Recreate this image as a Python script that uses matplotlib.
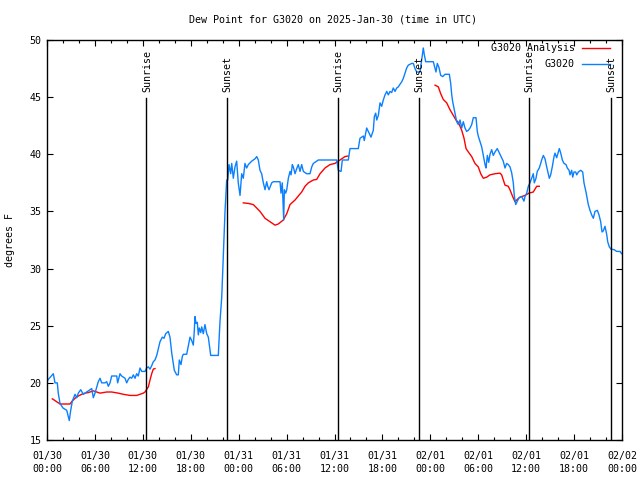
import numpy as np
import matplotlib
matplotlib.use("Agg")
import matplotlib.pyplot as plt
from matplotlib.transforms import blended_transform_factory

# ---------------- data (hours since 2025-01-30 00:00 UTC) ----------------
obs_hours = [0.0, 0.16, 0.79, 1.0, 1.29, 1.41, 1.63, 2.0, 2.47, 2.79, 2.97, 3.17, 3.51, 3.72, 3.92, 4.22,
             4.55, 4.97, 5.6, 5.8, 6.01, 6.42, 6.64, 6.85, 7.26, 7.48, 7.68, 7.89, 8.1, 8.73, 8.85, 9.14,
             9.35, 9.77, 9.98, 10.18, 10.39, 10.6, 10.81, 11.02, 11.23, 11.43, 11.65, 11.86, 12.27, 12.48,
             12.69, 12.9, 13.11, 13.31, 13.52, 13.74, 13.94, 14.15, 14.44, 14.65, 14.86, 15.19, 15.4, 15.62,
             15.82, 15.94, 16.24, 16.44, 16.57, 16.78, 16.94, 17.07, 17.49, 17.69, 17.91, 18.12, 18.32, 18.44,
             18.53, 18.66, 18.82, 18.95, 19.07, 19.25, 19.37, 19.57, 19.78, 20.0, 20.2, 20.41, 20.5, 21.45,
             21.66, 21.88, 22.08, 22.29, 22.5, 22.63, 22.79, 23.0, 23.13, 23.33, 23.54, 23.75, 23.95, 24.17,
             24.38, 24.58, 24.79, 25.0, 25.21, 25.63, 26.04, 26.26, 26.46, 26.67, 26.88, 27.09, 27.3, 27.51,
             27.64, 27.8, 28.14, 28.34, 29.18, 29.3, 29.46, 29.64, 29.72, 29.89, 30.02, 30.22, 30.43, 30.56,
             30.72, 30.84, 31.06, 31.27, 31.47, 31.68, 31.89, 32.1, 32.52, 32.93, 33.15, 33.35, 33.97, 36.28,
             36.48, 36.82, 36.98, 37.73, 37.94, 38.98, 39.19, 39.61, 39.73, 40.03, 40.23, 40.57, 40.86, 40.99,
             41.16, 41.29, 41.49, 41.7, 41.91, 42.11, 42.33, 42.54, 42.74, 42.95, 43.16, 43.36, 43.58, 43.79,
             43.99, 44.42, 44.62, 44.83, 45.04, 45.24, 45.67, 45.87, 46.08, 46.29, 46.71, 46.92, 47.12, 47.25,
             47.42, 48.37, 48.59, 48.71, 48.87, 49.08, 49.3, 49.55, 49.84, 50.38, 50.55, 50.68, 50.8, 51.09,
             51.3, 51.5, 51.72, 51.93, 52.13, 52.34, 52.55, 52.76, 52.97, 53.18, 53.38, 53.72, 53.88, 54.0,
             54.22, 54.43, 54.63, 54.85, 54.97, 55.14, 55.31, 55.47, 55.68, 55.88, 56.1, 56.38, 56.72, 56.93,
             57.13, 57.35, 57.56, 57.76, 57.97, 58.18, 58.39, 58.51, 58.69, 58.89, 59.1, 59.44, 59.72, 59.85,
             60.07, 60.27, 60.48, 60.69, 60.89, 61.02, 61.23, 61.39, 61.64, 61.82, 61.94, 62.15, 62.36, 62.57,
             62.77, 62.9, 63.07, 63.27, 63.49, 63.61, 63.82, 64.03, 64.15, 64.33, 64.53, 64.74, 64.99, 65.15,
             65.37, 65.49, 65.7, 65.83, 65.99, 66.2, 66.33, 66.53, 66.83, 67.08, 67.24, 67.49, 67.78, 67.99,
             68.2, 68.41, 68.62, 68.91, 69.12, 69.33, 69.5, 69.66, 69.87, 70.08, 70.21, 70.41, 70.62, 71.03,
             71.33, 71.75, 71.96]
obs_dewpt = [20.1, 20.3, 20.8, 20.0, 20.0, 19.1, 18.2, 17.8, 17.6, 16.7, 17.6, 18.4, 19.0, 18.7, 19.1, 19.4,
             19.0, 19.2, 19.5, 18.7, 19.1, 20.1, 20.4, 20.0, 20.0, 20.1, 19.7, 20.0, 20.6, 20.6, 20.0, 20.8,
             20.6, 20.4, 20.0, 20.3, 20.5, 20.4, 20.7, 20.4, 20.8, 20.6, 21.3, 21.0, 21.0, 21.3,
             21.4, 21.2, 21.5, 21.85, 22.0, 22.4, 23.0, 23.6, 24.0, 23.9, 24.3, 24.5, 24.0, 22.6,
             21.7, 21.1, 20.7, 20.7, 22.0, 21.6, 22.3, 22.5, 22.5, 23.2, 24.0, 23.7, 23.3, 24.5,
             25.8, 25.2, 25.3, 24.2, 24.8, 24.4, 24.9, 24.3, 25.1, 24.3, 24.0, 22.9, 22.4, 22.4,
             25.35, 27.5, 31.2, 35.0, 37.75, 37.75, 39.1, 38.3, 39.2, 37.9, 38.9, 39.4, 37.5, 36.4,
             38.3, 37.9, 39.2, 38.8, 39.1, 39.4, 39.6, 39.8, 39.5, 38.6, 38.3, 37.5, 36.9, 37.6,
             37.2, 36.9, 37.5, 37.6, 37.6, 36.6, 37.5, 34.25, 36.9, 36.6, 36.9, 37.9, 38.5, 38.2,
             39.1, 38.9, 38.3, 38.75, 39.1, 38.5, 39.1, 38.5, 38.3, 38.3, 38.9, 39.2, 39.5, 39.5,
             38.6, 38.5, 39.5, 39.5, 40.5, 40.5, 41.4, 41.6, 41.2, 42.3, 42.0, 41.5, 42.1, 43.3,
             43.6, 43.0, 43.4, 44.5, 44.2, 44.75, 45.2, 45.5, 45.2, 45.5, 45.4, 45.8, 45.5, 45.8,
             45.9, 46.35, 46.65, 47.1, 47.55, 47.8, 47.95, 47.95, 47.5, 47.2, 47.2, 48.25, 49.3, 48.7,
             48.1, 48.1, 47.5, 47.2, 47.95, 47.6, 46.9, 46.8, 47.0, 47.0, 46.2, 45.2, 44.6, 43.6,
             42.85, 42.6, 43.0, 42.3, 42.85, 42.3, 42.0, 42.1, 42.3, 42.6, 43.2, 43.2, 42.0, 41.6,
             41.1, 40.65, 39.9, 39.1, 38.8, 39.9, 39.3, 40.0, 40.4, 39.9, 40.2, 40.5, 40.0, 39.7,
             39.4, 38.8, 39.2, 39.1, 38.9, 38.4, 37.5, 36.4, 35.6, 35.9, 36.2, 36.3, 35.9, 36.3,
             36.6, 37.2, 37.5, 37.9, 38.3, 37.5, 37.9, 38.5, 38.8, 39.2, 39.5, 39.9, 39.6, 38.9,
             38.3, 37.9, 38.2, 38.9, 39.8, 40.1, 39.7, 40.2, 40.5, 40.1, 39.5, 39.2, 39.1, 38.8,
             38.6, 38.2, 38.6, 38.0, 38.45, 38.45, 38.2, 38.45, 38.6, 38.45, 37.5, 36.7, 35.6, 35.1,
             34.7, 34.4, 35.0, 35.1, 34.7, 34.1, 33.2, 33.3, 33.7, 33.0, 32.35, 31.9, 31.7, 31.65,
             31.5, 31.5, 31.3]

ana_hours = [0.66, 0.79, 1.21, 1.63, 2.04, 2.88, 3.09, 3.51, 3.92, 4.35, 4.76, 5.17, 5.8, 6.22, 6.64, 7.05,
             7.48, 8.1, 8.93, 9.55, 10.39, 11.23, 12.06, 12.27, 12.69, 12.9, 13.11, 13.31, 13.52,
             np.nan,
             24.58, 25.21, 25.83, 26.26, 26.67, 27.3, 27.92, 28.55, 28.96, 29.59, 30.02, 30.43, 31.06, 31.47,
             31.89, 32.31, 32.72, 33.35, 33.77, 34.19, 34.81, 35.44, 36.06, 36.69, 37.31, 37.73,
             np.nan,
             48.59, 49.0, 49.3, 49.62, 50.05, 50.46, 50.88, 51.21, 51.5, 51.93, 52.22, 52.47, 52.76, 53.18,
             53.59, 54.0, 54.31, 54.63, 55.06, 55.47, 56.1, 56.72, 56.93, 57.35, 57.76, 57.97, 58.31, 58.6,
             58.81, 59.23, 59.85, 60.35, 60.89, 61.32, 61.64]
ana_dewpt = [18.6, 18.55, 18.35, 18.15, 18.15, 18.15, 18.35, 18.65, 18.85, 19.0, 19.1, 19.15, 19.3, 19.2, 19.1, 19.15,
             19.2, 19.2, 19.1, 19.0, 18.9, 18.9, 19.1, 19.2, 19.65, 20.25, 20.8, 21.2, 21.25,
             np.nan,
             35.75, 35.7, 35.6, 35.3, 35.0, 34.4, 34.1, 33.8, 33.9, 34.25, 34.8, 35.6, 36.0, 36.35,
             36.7, 37.2, 37.5, 37.75, 37.8, 38.3, 38.8, 39.1, 39.2, 39.5, 39.8, 39.85,
             np.nan,
             46.05, 45.9, 45.3, 44.8, 44.5, 43.9, 43.4, 43.0, 42.8, 42.1, 41.4, 40.5, 40.2, 39.8,
             39.2, 38.9, 38.3, 37.9, 38.0, 38.2, 38.3, 38.35, 38.2, 37.3, 37.2, 36.9, 36.3, 35.85,
             36.0, 36.25, 36.4, 36.6, 36.7, 37.2, 37.2]

sun_hours = [12.45, 22.54, 36.44, 46.58, 60.36, 70.62]
sun_labels = ["Sunrise", "Sunset", "Sunrise", "Sunset", "Sunrise", "Sunset"]

xtick_hours = list(range(0, 73, 6))
xtick_labels = ["01/30\n00:00", "01/30\n06:00", "01/30\n12:00", "01/30\n18:00",
                "01/31\n00:00", "01/31\n06:00", "01/31\n12:00", "01/31\n18:00",
                "02/01\n00:00", "02/01\n06:00", "02/01\n12:00", "02/01\n18:00",
                "02/02\n00:00"]
yticks = [15, 20, 25, 30, 35, 40, 45, 50]

title = "Dew Point for G3020 on 2025-Jan-30 (time in UTC)"
ylabel = "degrees F"
legend_labels = ["G3020 Analysis", "G3020"]

# ---------------- plot ----------------
FONT = "DejaVu Sans Mono"
FS = 7.2
plt.rcParams['font.family'] = [FONT]
plt.rcParams['font.size'] = FS

fig = plt.figure(figsize=(6.4, 4.8), dpi=100)
ax = fig.add_axes([47 / 640, 40 / 480, 575 / 640, 400 / 480])

red = "#ff0000"
blue = "#0a80ff"

ax.plot(ana_hours, ana_dewpt, color=red, lw=1.0)
ax.plot(obs_hours, obs_dewpt, color=blue, lw=1.0)

trans = blended_transform_factory(ax.transData, ax.transAxes)
for h, lab in zip(sun_hours, sun_labels):
    ax.plot([h, h], [0, 0.855], color="black", lw=1.0, transform=trans)
    ax.text(h + 0.1, 0.87, lab, rotation=90, ha="center", va="bottom",
            transform=trans, fontsize=FS)

ax.set_xlim(0, 72)
ax.set_ylim(15, 50)
ax.set_xticks(xtick_hours)
ax.set_xticklabels(xtick_labels, fontsize=FS, linespacing=1.3)
ax.set_xticks(list(range(0, 73, 2)), minor=True)
ax.set_yticks(yticks)
ax.set_yticklabels([str(v) for v in yticks], fontsize=FS)
ax.tick_params(which="both", direction="in", top=True, right=True, width=0.8)
ax.tick_params(which="major", length=4.5, pad=4)
ax.tick_params(axis="x", which="major", pad=8)
ax.tick_params(which="minor", length=2.5)
for s in ax.spines.values():
    s.set_linewidth(1.0)

fig.text(333 / 640, 1 - 19 / 480, title, ha="center", va="center", fontsize=FS)
fig.text(10 / 640, 0.5, ylabel, rotation=90, ha="center", va="center", fontsize=FS)

# manual legend (gnuplot style)
leg_y = [0.98, 0.94]
for (lab, col, yy) in zip(legend_labels, [red, blue], leg_y):
    ax.text(0.918, yy, lab, ha="right", va="center", transform=ax.transAxes, fontsize=FS)
    ax.plot([0.930, 0.979], [yy, yy], color=col, lw=1.0, transform=ax.transAxes)

fig.savefig("out.png", dpi=100)
